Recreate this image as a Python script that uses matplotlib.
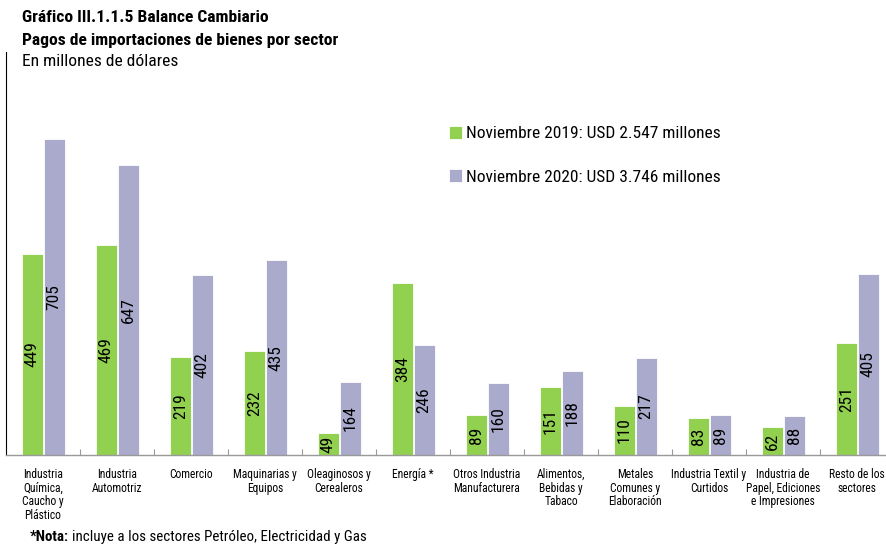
import matplotlib
matplotlib.use("Agg")
import numpy as np
import matplotlib.pyplot as plt

plt.rcParams["font.family"] = ["Roboto Condensed", "Roboto", "DejaVu Sans"]

# Pagos de importaciones de bienes por sector (millones de USD)
sectores = [
    "Industria\nQuímica,\nCaucho y\nPlástico",
    "Industria\nAutomotriz",
    "Comercio",
    "Maquinarias y\nEquipos",
    "Oleaginosos y\nCerealeros",
    "Energía *",
    "Otros Industria\nManufacturera",
    "Alimentos,\nBebidas y\nTabaco",
    "Metales\nComunes y\nElaboración",
    "Industria Textil y\nCurtidos",
    "Industria de\nPapel, Ediciones\ne Impresiones",
    "Resto de los\nsectores",
]
nov_2019 = [449, 469, 219, 232, 49, 384, 89, 151, 110, 83, 62, 251]
nov_2020 = [705, 647, 402, 435, 164, 246, 160, 188, 217, 89, 88, 405]
leyenda = ["Noviembre 2019: USD 2.547 millones", "Noviembre 2020: USD 3.746 millones"]

verde = "#92d050"
lila = "#aaaacc"

fig = plt.figure(figsize=(8.86, 5.44), dpi=100)
ax = fig.add_axes([6 / 886, 89 / 544, 888 / 886, 403 / 544])

x = np.arange(len(sectores))
w = 0.285
b1 = ax.bar(x - 0.145, nov_2019, w, color=verde, edgecolor="white", linewidth=0.6, label=leyenda[0])
b2 = ax.bar(x + 0.150, nov_2020, w, color=lila, edgecolor="white", linewidth=0.6, label=leyenda[1])

# valores dentro de las barras, rotados
for bars, vals in ((b1, nov_2019), (b2, nov_2020)):
    for r, v in zip(bars, vals):
        ax.text(r.get_x() + r.get_width() / 2, v / 2, str(v), rotation=90,
                ha="center", va="center", fontsize=12.5, color="black")

ax.set_xlim(-0.5, len(sectores) - 0.5)
ax.set_ylim(0, 900)
ax.set_yticks([])
ax.set_xticks(x)
ax.set_xticklabels(sectores, fontsize=8.3, linespacing=1.05)
ax.tick_params(axis="x", which="major", length=0, pad=9.5)
ax.set_xticks(x[:-1] + 0.5, minor=True)
ax.tick_params(axis="x", which="minor", direction="in", length=4, color="#999999", width=0.8)

for s in ("top", "right"):
    ax.spines[s].set_visible(False)
ax.spines["left"].set_color("black")
ax.spines["left"].set_linewidth(0.8)
ax.spines["bottom"].set_color("#999999")
ax.spines["bottom"].set_linewidth(1.0)

ax.legend(loc="upper left", bbox_to_anchor=(449 / 886, 1 - 126 / 544),
          bbox_transform=fig.transFigure, frameon=False, fontsize=12.5,
          handlelength=0.75, handleheight=0.75, handletextpad=0.25,
          labelspacing=1.6, borderaxespad=0, borderpad=0)

# titulos
fig.text(22 / 886, 1 - 18 / 544, "Gráfico III.1.1.5 Balance Cambiario",
         fontsize=12.6, fontweight="bold", va="center", ha="left")
fig.text(22 / 886, 1 - 40 / 544, "Pagos de importaciones de bienes por sector",
         fontsize=12.6, fontweight="bold", va="center", ha="left")
fig.text(22 / 886, 1 - 61 / 544, "En millones de dólares",
         fontsize=12.6, va="center", ha="left")

# nota al pie
t = fig.text(30 / 886, 1 - 537 / 544, "*Nota:", fontsize=10.8,
             fontweight="bold", va="center", ha="left")
fig.canvas.draw()
bb = t.get_window_extent()
fig.text((bb.x1 + 3) / 886, 1 - 537 / 544, "incluye a los sectores Petróleo, Electricidad y Gas",
         fontsize=10.8, va="center", ha="left")

fig.savefig("out.png", dpi=100)
